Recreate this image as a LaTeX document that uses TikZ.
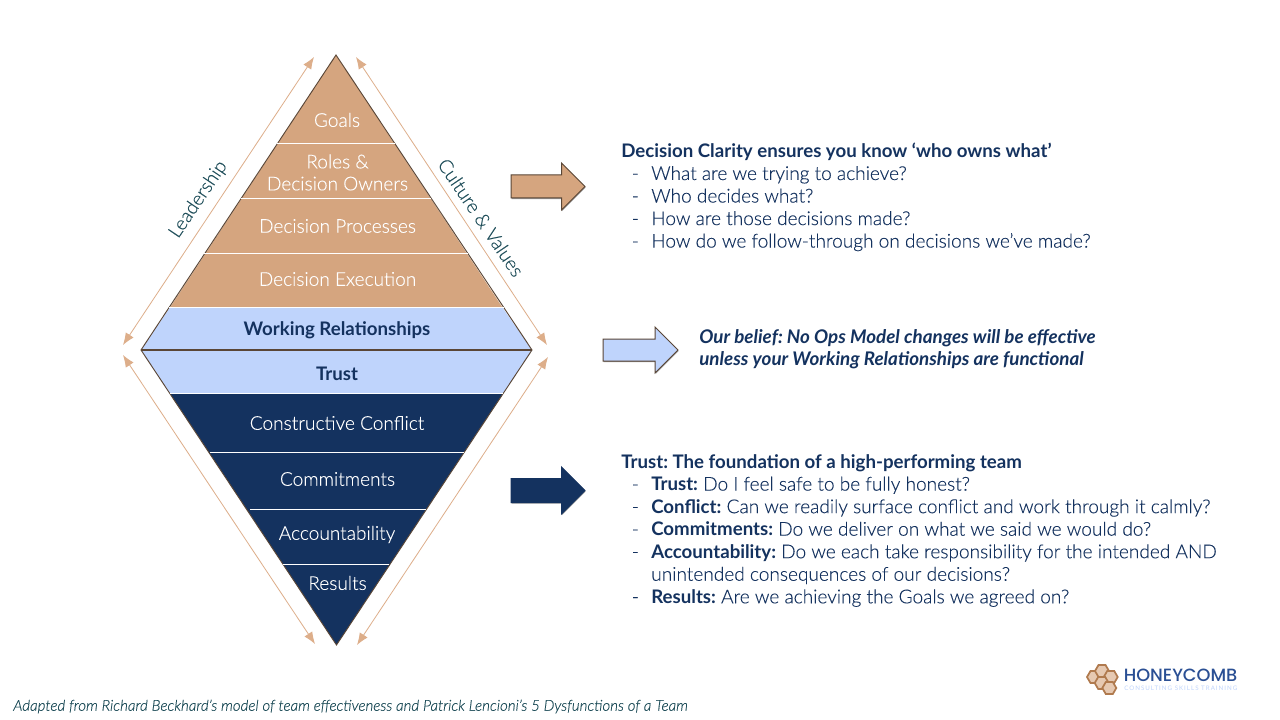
\documentclass[tikz,border=0pt]{standalone}
\usepackage{fontspec}
\usetikzlibrary{arrows.meta}
\setmainfont{Lato}[UprightFont=* Light,UprightFeatures={FakeBold=0.18},BoldFont=* Bold,ItalicFont=* Light Italic,ItalicFeatures={FakeBold=0.18},BoldItalicFont=* Bold Italic]
\newfontfamily\logofont{Poppins}[UprightFont=* Medium]
\newfontfamily\logosub{Lato}[LetterSpace=16]
\frenchspacing
\definecolor{tan}{HTML}{D5A57F}
\definecolor{lblue}{HTML}{BFD4FC}
\definecolor{navy}{HTML}{14325F}
\definecolor{teal}{HTML}{1F4E5A}
\definecolor{brownline}{HTML}{5A4636}
\definecolor{arrowtan}{HTML}{DDAE8A}
\definecolor{logoblue}{HTML}{2A4F94}
\definecolor{copper}{HTML}{B07A4E}
\tikzset{
 x=0.75pt,y=-0.75pt,
 layertext/.style={font=\fontsize{14.3}{16.5}\selectfont,text=white,align=center,inner sep=0pt},
 darktext/.style={font=\fontsize{14}{16.5}\selectfont\bfseries,text=navy,inner sep=0pt},
 sidelabel/.style={font=\fontsize{14.3}{16.5}\selectfont,text=teal,inner sep=0pt},
 body/.style={font=\fontsize{14.3}{16.9}\selectfont,text=navy,align=left,anchor=west,inner sep=0pt},
 span/.style={draw=arrowtan,line width=0.6pt,{Latex[length=9pt,width=7pt]}-{Latex[length=9pt,width=7pt]}},
 divider/.style={draw=white,line width=0.75pt},
 block/.style={draw=brownline,line width=0.75pt},
 blockshade/.style={fill=black!40,draw=none,xshift=0.5pt,yshift=-0.8pt},
 hexcell/.style={draw=copper,line width=1.3pt,fill=tan!60},
}
\newcommand\myli{\makebox[22.5pt][l]{\hspace{7.9pt}-}}
\newcommand\hd[1]{{\fontsize{14}{16.9}\selectfont\bfseries #1}}
\begin{document}
\begin{tikzpicture}
\useasboundingbox (0,0) rectangle (1280,720);
\fill[white] (0,0) rectangle (1280,720);
% diamond coordinates
\coordinate (top) at (336,55);
\coordinate (lft) at (141,350);
\coordinate (rgt) at (532,350);
\coordinate (bot) at (336.5,645);
% fills
\fill[tan] (top) -- (170,307.5) -- (502.5,307.5) -- cycle;
\fill[lblue] (170,307.5) -- (lft) -- (rgt) -- (502.5,307.5) -- cycle;
\fill[lblue] (lft) -- (170,393.5) -- (503,393.5) -- (rgt) -- cycle;
\fill[navy] (170,393.5) -- (bot) -- (503,393.5) -- cycle;
% outline
\draw[brownline,line width=0.7pt,line join=miter] (top) -- (lft) -- (bot) -- (rgt) -- cycle;
\draw[brownline,line width=1.5pt] (lft) -- (rgt);
% dividers
\draw[divider] (277,143.5) -- (395,143.5);
\draw[divider] (240.5,198.5) -- (431,198.5);
\draw[divider] (204,253.5) -- (467.5,253.5);
\draw[divider] (169,307.5) -- (503.5,307.5);
\draw[divider] (170,393.5) -- (503,393.5);
\draw[divider] (210,452.5) -- (464,452.5);
\draw[divider] (250,509.5) -- (426,509.5);
\draw[divider] (283,564.5) -- (389,564.5);
% layer text
\node[layertext] (goals) at (337,120) {Goals};
\node[layertext] (roles) at (337.5,172.5) {Roles \&\\Decision Owners};
\node[layertext] (proc) at (337.5,226) {Decision Processes};
\node[layertext] (exec) at (337.5,279) {Decision Execution};
\node[darktext] (work) at (337,330) {Working Relationships};
\node[darktext] (trust) at (337,374) {Trust};
\node[layertext] (conf) at (337,423) {Constructive Conflict};
\node[layertext] (comm) at (337.5,479) {Commitments};
\node[layertext] (acc) at (337,534.5) {Accountability};
\node[layertext] (res) at (337.5,583) {Results};
% side arrows
\coordinate (a1) at (123,345); \coordinate (a2) at (314,57);
\coordinate (b1) at (356,57); \coordinate (b2) at (547,345);
\coordinate (c1) at (123,355); \coordinate (c2) at (315,644);
\coordinate (d1) at (548,357); \coordinate (d2) at (357,645);
\draw[span] (a1) -- (a2);
\draw[span] (b1) -- (b2);
\draw[span] (c1) -- (c2);
\draw[span] (d1) -- (d2);
\node[sidelabel,rotate=56] (lead) at (198.5,199.5) {Leadership};
\node[sidelabel,rotate=-56] (cult) at (481,217.5) {Culture \& Values};
% block arrows
\fill[blockshade] (511,175) -- (561.5,175) -- (561.5,163) -- (585,186.5) -- (561.5,210) -- (561.5,198) -- (511,198) -- cycle;
\draw[block,fill=tan] (511,175) -- (561.5,175) -- (561.5,163) -- (585,186.5) -- (561.5,210) -- (561.5,198) -- (511,198) -- cycle;
\fill[blockshade] (603,339) -- (655,339) -- (655,327) -- (678,350) -- (655,373) -- (655,361) -- (603,361) -- cycle;
\draw[block,fill=lblue] (603,339) -- (655,339) -- (655,327) -- (678,350) -- (655,373) -- (655,361) -- (603,361) -- cycle;
\fill[blockshade] (511,478.5) -- (561.5,478.5) -- (561.5,467) -- (585,490.5) -- (561.5,514) -- (561.5,502.5) -- (511,502.5) -- cycle;
\draw[block,fill=navy,draw=navy] (511,478.5) -- (561.5,478.5) -- (561.5,467) -- (585,490.5) -- (561.5,514) -- (561.5,502.5) -- (511,502.5) -- cycle;
% body text
\node[body] (t1) at (621,197) {\hd{Decision Clarity ensures you know ‘who owns what’}\\
\myli What are we trying to achieve?\\
\myli Who decides what?\\
\myli How are those decisions made?\\
\myli How do we follow-through on decisions we’ve made?};
\node[body,font=\fontsize{14.1}{16.9}\selectfont\bfseries\itshape] (t2) at (699,349) {Our belief: No Ops Model changes will be effective\\
unless your Working Relationships are functional};
\node[body] (t3) at (621,530.5) {\hd{Trust: The foundation of a high-performing team}\\
\myli \hd{Trust:} Do I feel safe to be fully honest?\\
\myli \hd{Conflict:} Can we readily surface conflict and work through it calmly?\\
\myli \hd{Commitments:} Do we deliver on what we said we would do?\\
\myli \hd{Accountability:} Do we each take responsibility for the intended AND\\
\hspace*{22.5pt}unintended consequences of our decisions?\\
\myli \hd{Results:} Are we achieving the Goals we agreed on?};
\node[anchor=west,inner sep=0pt,text=teal,font=\fontsize{11.33}{12}\selectfont\itshape] (foot) at (13,706.5) {Adapted from Richard Beckhard’s model of team effectiveness and Patrick Lencioni’s 5 Dysfunctions of a Team};
% logo
\foreach \cx/\cy in {1094/677,1102/671,1110.7/677,1101.7/683,1109.3/688}{
 \draw[hexcell] (\cx+7,\cy) -- (\cx+3.5,\cy+6) -- (\cx-3.5,\cy+6) -- (\cx-7,\cy) -- (\cx-3.5,\cy-6) -- (\cx+3.5,\cy-6) -- cycle;
}
\node[anchor=west,inner sep=0pt,text=logoblue,font=\fontsize{13.3}{14}\logofont] (honey) at (1123.5,675.5) {HONEYCOMB};
\node[anchor=west,inner sep=0pt,text=lblue,font=\fontsize{4.65}{5}\logosub] (sub) at (1124,688) {CONSULTING SKILLS TRAINING};
\end{tikzpicture}
\end{document}
